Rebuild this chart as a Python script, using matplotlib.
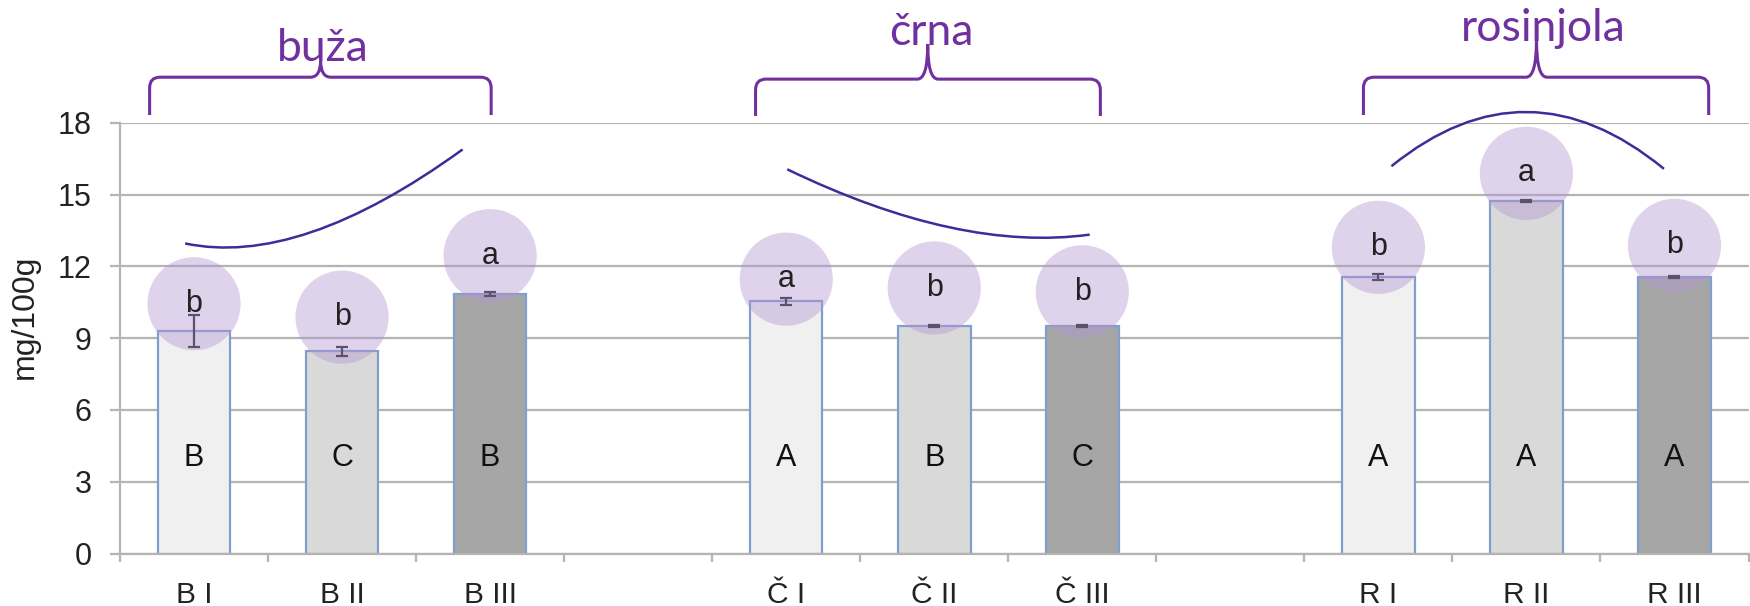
import matplotlib
matplotlib.use("Agg")
import matplotlib.pyplot as plt
from matplotlib.path import Path
from matplotlib.patches import PathPatch
import numpy as np

plt.rcParams['font.family'] = ['Liberation Sans', 'DejaVu Sans']

# data
labels = ['B I', 'B II', 'B III', 'Č I', 'Č II', 'Č III', 'R I', 'R II', 'R III']
values = [9.3, 8.45, 10.85, 10.55, 9.5, 9.52, 11.55, 14.75, 11.55]
errors = [0.65, 0.2, 0.1, 0.15, 0.04, 0.04, 0.12, 0.04, 0.04]
upper = ['B', 'C', 'B', 'A', 'B', 'C', 'A', 'A', 'A']
lower = ['b', 'b', 'a', 'a', 'b', 'b', 'b', 'a', 'b']
groups = ['buža', 'črna', 'rosinjola']

# layout / style
positions = [g * 4 + j for g in range(3) for j in range(3)]
fills = ['#f0f0f0', '#d9d9d9', '#a6a6a6']
circle_off = [1.14, 1.43, 1.6, 0.92, 1.6, 1.42, 1.25, 1.14, 1.33]
grid_c = '#b4b4b4'
purple = '#7030a0'
arc_c = '#43299a'

fig = plt.figure(figsize=(17.5, 6.06), dpi=100)
ax = fig.add_axes([120 / 1750, 52.5 / 606, 1628.5 / 1750, 430.6 / 606])

ax.bar(positions, values, width=0.49, color=[fills[i % 3] for i in range(9)],
       edgecolor='#819ecd', linewidth=1.6, zorder=2)
ax.errorbar(positions, values, yerr=errors, fmt='none', ecolor='#222222',
            elinewidth=1.6, capsize=4, capthick=1.6, zorder=3)

# circles with letters
cy = [v + o for v, o in zip(values, circle_off)]
ax.scatter(positions, cy, s=4500, color=(0.70, 0.58, 0.82), alpha=0.42,
           edgecolors='none', zorder=4, clip_on=False)
for x, y, t in zip(positions, cy, lower):
    ax.text(x, y, t, ha='center', va='center', fontsize=22, color='#222222', zorder=5)
for x, t in zip(positions, upper):
    ax.text(x, 4, t, ha='center', va='center', fontsize=22, color='#111111', zorder=5)

# axes
ax.set_xlim(-0.5, 10.5)
ax.set_ylim(0, 18)
ax.set_yticks(np.arange(0, 19, 3))
ax.yaxis.grid(True, color=grid_c, linewidth=1.6, zorder=0)
ax.set_axisbelow(True)
for s in ['top', 'right']:
    ax.spines[s].set_visible(False)
for s in ['left', 'bottom']:
    ax.spines[s].set_color(grid_c)
    ax.spines[s].set_linewidth(1.6)
ax.set_xticks(positions)
ax.set_xticklabels(labels)
ax.set_xticks(np.arange(-0.5, 11, 1), minor=True)
ax.tick_params(axis='x', which='major', length=0, pad=20, labelsize=21.5, labelcolor='#222222')
ax.tick_params(axis='x', which='minor', length=6, width=1.6, color=grid_c)
ax.tick_params(axis='y', length=7, width=1.6, color=grid_c, pad=13.5, labelsize=22,
               labelcolor='#222222')
fig.text(25 / 1750, 1 - 317 / 606, 'mg/100g', rotation=90, ha='center', va='center',
         fontsize=23, color='#222222')

# arcs (quadratic bezier)
arcs = [[(-0.06, 12.96), (0.713, 11.95), (1.814, 16.89)],
        [(4.007, 16.06), (5.172, 12.58), (6.05, 13.33)],
        [(8.088, 16.19), (9.003, 20.78), (9.929, 16.08)]]
for a in arcs:
    p = Path(a, [Path.MOVETO, Path.CURVE3, Path.CURVE3])
    ax.add_patch(PathPatch(p, fill=False, edgecolor=arc_c, linewidth=1.8,
                           clip_on=False, zorder=6))


# braces
def brace(x0, x1, xc, yb, yh, yt):
    rx, ry = 0.07, 0.45
    verts = [(x0, yb), (x0, yh - ry), (x0, yh), (x0 + rx, yh), (xc - rx, yh), (xc, yh), (xc, yt),
             (xc, yt), (xc, yh), (xc + rx, yh), (x1 - rx, yh), (x1, yh), (x1, yh - ry), (x1, yb)]
    codes = [Path.MOVETO, Path.LINETO, Path.CURVE3, Path.CURVE3, Path.LINETO, Path.CURVE3, Path.CURVE3,
             Path.MOVETO, Path.CURVE3, Path.CURVE3, Path.LINETO, Path.CURVE3, Path.CURVE3, Path.LINETO]
    ax.add_patch(PathPatch(Path(verts, codes), fill=False, edgecolor=purple,
                           linewidth=2.2, clip_on=False, zorder=6))


brace(-0.30, 2.007, 0.855, 18.33, 19.91, 20.6)
brace(3.793, 6.122, 4.956, 18.29, 19.83, 21.3)
brace(7.899, 10.231, 9.068, 18.33, 19.91, 21.5)

text_x = [0.868, 4.977, 9.111]
text_y = [20.57, 21.25, 21.44]
for x, y, t in zip(text_x, text_y, groups):
    ax.text(x, y, t, ha='center', va='baseline', fontsize=32, color=purple,
            family=['Lato', 'DejaVu Sans'], clip_on=False, zorder=7)

fig.savefig('out.png', dpi=100)
